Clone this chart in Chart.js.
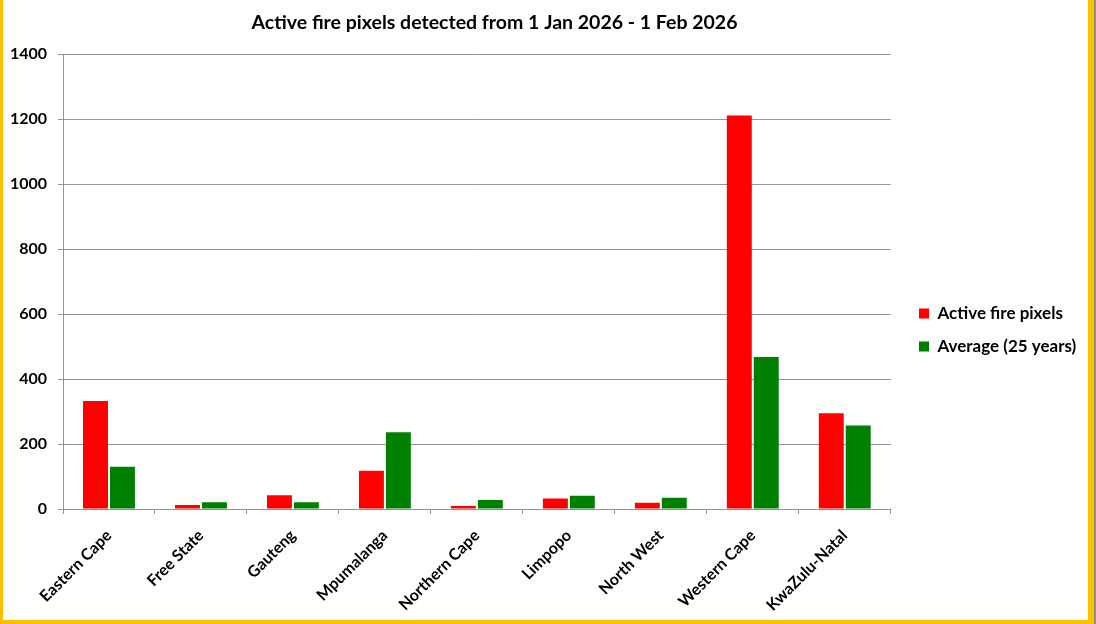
<!DOCTYPE html>
<html>
<head>
<meta charset="utf-8">
<title>Active fire pixels</title>
<script src="https://cdn.jsdelivr.net/npm/chart.js@4"></script>
<style>
  body { margin: 0; background: #958c84; }
  #frame {
    position: absolute; left: 0; top: 0;
    width: 1085px; height: 620px;
    background: #fff;
    border-left: 3px solid #FFC000;
    border-right: 6px solid #FFC000;
    border-bottom: 4px solid #FFC000;
  }
</style>
</head>
<body>
<div id="frame"><canvas id="myChart"></canvas></div>
<script>
var provinces = ['Eastern Cape', 'Free State', 'Gauteng', 'Mpumalanga', 'Northern Cape',
                 'Limpopo', 'North West', 'Western Cape', 'KwaZulu-Natal'];
var activePixels = [332, 12, 42, 118, 9, 32, 19, 1211, 295];
var averagePixels = [130, 21, 21, 236, 28, 41, 35, 468, 257];
var yTicks = [0, 200, 400, 600, 800, 1000, 1200, 1400];

var chartTitle = 'Active fire pixels detected from 1 Jan 2026 - 1 Feb 2026';
var fontName = 'Lato, "Open Sans", sans-serif';
var gridGray = '#959595';

// title is drawn by hand so it sits over the plot, not the whole canvas
var titlePlugin = {
    id: 'titleText',
    afterDraw: function(chart) {
        var ctx = chart.ctx;
        ctx.save();
        ctx.font = 'bold 19.5px ' + fontName;
        ctx.fillStyle = '#000';
        ctx.textAlign = 'center';
        ctx.textBaseline = 'alphabetic';
        ctx.fillText(chartTitle, 491.5, 29);
        ctx.restore();
    }
};

// move legend a bit away from the plot and up
var legendShift = {
    id: 'legendShift',
    afterLayout: function(chart) {
        var lg = chart.legend;
        var dx = 900 - lg.left;
        lg.left += dx;
        lg.right += dx;
        lg.top -= 7;
        lg.bottom -= 7;
    }
};

var ctx = document.getElementById('myChart').getContext('2d');
var myChart = new Chart(ctx, {
    type: 'bar',
    data: {
        labels: provinces,
        datasets: [{
            label: 'Active fire pixels',
            data: activePixels,
            backgroundColor: '#FF0000',
            borderWidth: 0
        }, {
            label: 'Average (25 years)',
            data: averagePixels,
            backgroundColor: '#008000',
            borderWidth: 0
        }]
    },
    options: {
        responsive: true,
        maintainAspectRatio: false,
        animation: false,
        categoryPercentage: 0.586,
        barPercentage: 0.926,
        layout: { padding: { top: 54, left: 0, right: 14, bottom: 0 } },
        plugins: {
            title: { display: false },
            tooltip: { enabled: false },
            legend: {
                position: 'right',
                labels: {
                    boxWidth: 10,
                    boxHeight: 10,
                    padding: 16,
                    color: '#000',
                    font: { family: fontName, size: 17, weight: 'bold' }
                }
            }
        },
        scales: {
            x: {
                grid: { drawOnChartArea: false, drawTicks: true, tickLength: 5, color: gridGray },
                border: { display: true, color: gridGray },
                ticks: {
                    autoSkip: false,
                    maxRotation: 45,
                    minRotation: 45,
                    padding: 12,
                    color: '#000',
                    font: { family: fontName, size: 16, weight: 'bold' }
                },
                afterFit: function(scale) { scale.height = 111; }
            },
            y: {
                min: 0,
                max: 1400,
                afterBuildTicks: function(scale) {
                    scale.ticks = yTicks.map(function(v) { return { value: v }; });
                },
                grid: { color: gridGray, tickLength: 5 },
                border: { display: true, color: gridGray },
                ticks: {
                    padding: 11,
                    color: '#000',
                    font: { family: fontName, size: 16, weight: 'bold' },
                    callback: function(value) { return String(value); }
                },
                afterFit: function(scale) { scale.width = 60; }
            }
        }
    },
    plugins: [titlePlugin, legendShift]
});
</script>
</body>
</html>
